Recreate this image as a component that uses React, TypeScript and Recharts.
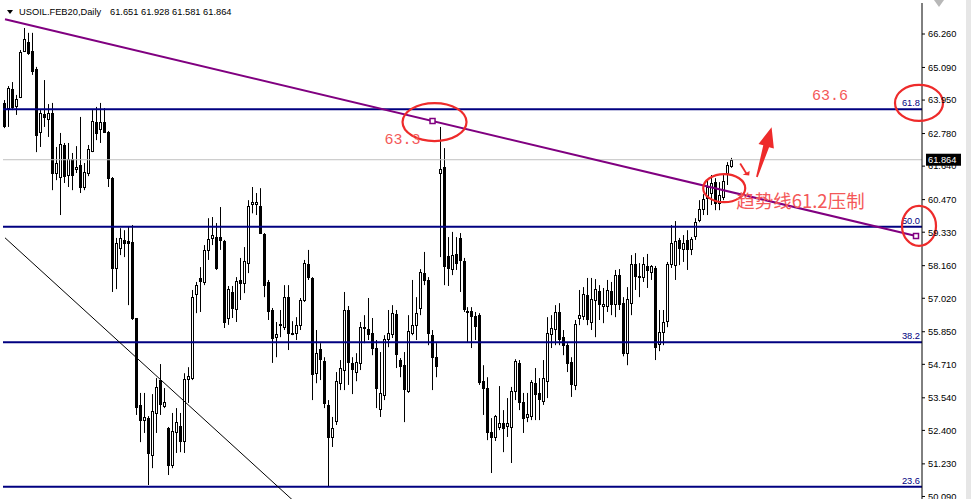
import { ComposedChart, Bar, XAxis, YAxis, ReferenceLine, ReferenceDot } from "recharts";

// USOIL.FEB20 daily candles (oldest first)
const opens = [
  63.85, 63.67, 64.33, 63.74, 64.06, 65.67, 65.98, 65.67, 65.04, 62.83, 63.46, 63.29, 63.5, 61.4, 61.26, 62.38, 61.33, 61.89, 61.54, 61.68,
  60.91, 61.4, 62.17, 63.18, 62.94, 63.18, 62.83, 61.22, 58.08, 58.78, 59.06, 59.02, 58.99, 56.33, 53.29, 52.76, 52.83, 51.54, 53.01, 54.16,
  53.25, 52.48, 51.19, 52.34, 52.55, 52.03, 54.19, 54.23, 57.17, 57.73, 57.59, 58.71, 59.13, 59.16, 59.16, 59.02, 56.33, 57.24, 56.64, 57.66,
  57.55, 58.25, 60.31, 60.31, 60.24, 59.27, 57.59, 56.61, 55.66, 56.08, 56.01, 57.06, 55.8, 55.8, 56.08, 56.96, 58.22, 57.73, 54.4, 55.24,
  54.82, 53.29, 52.17, 52.73, 54.05, 54.51, 56.61, 54.75, 54.44, 54.75, 55.98, 55.94, 55.8, 55.28, 53.15, 53.64, 55.59, 55.77, 56.47, 54.86,
  54.68, 53.78, 55.8, 56.08, 56.68, 57.9, 57.66, 55.73, 54.96, 61.4, 61.61, 58.5, 58.04, 58.57, 59.13, 58.32, 56.57, 56.57, 56.4, 56.43,
  54.12, 53.88, 52.34, 52.17, 52.52, 52.66, 52.55, 52.52, 53.78, 54.75, 53.39, 52.87, 52.9, 54.05, 53.71, 53.43, 54.12, 55.77, 55.94, 56.54,
  55.66, 55.38, 54.79, 53.99, 56.33, 56.4, 57.13, 56.19, 56.96, 57.27, 56.75, 56.75, 57.27, 56.82, 57.83, 56.85, 55.1, 56.85, 58.22, 57.8,
  57.76, 58.15, 57.94, 58.08, 55.42, 55.84, 56.22, 58.22, 58.18, 59.06, 58.74, 59.06, 58.74, 59.2, 59.75, 60.14, 60.52, 60.7, 61.08, 60.35,
  60.56, 61.4, 61.651,
];
const highs = [
  63.95, 64.44, 64.58, 64.13, 65.7, 66.47, 66.3, 66.3, 65.11, 63.6, 64.65, 63.81, 63.85, 62.31, 62.8, 62.45, 62.45, 62.1, 62.34, 63.36,
  61.75, 62.38, 63.6, 63.71, 63.85, 63.67, 62.87, 61.26, 59.13, 59.47, 59.4, 59.51, 59.58, 56.33, 53.71, 53.71, 52.9, 53.67, 54.23, 54.72,
  53.88, 52.52, 53.01, 53.18, 53.01, 54.4, 54.61, 57.31, 57.59, 58.11, 58.88, 59.82, 59.86, 59.65, 60.21, 59.06, 57.45, 57.45, 57.76, 58.43,
  58.81, 60.45, 60.91, 60.7, 60.87, 59.3, 57.66, 56.68, 56.19, 56.61, 57.48, 57.48, 56.22, 56.36, 57.03, 58.36, 58.71, 57.76, 55.91, 55.45,
  54.96, 53.46, 52.87, 54.44, 54.86, 57.24, 56.75, 54.96, 55.1, 56.19, 56.43, 57.03, 56.33, 55.56, 55.14, 55.73, 56.61, 56.78, 56.61, 54.93,
  55.14, 56.43, 57.66, 57.06, 58.04, 58.64, 57.76, 55.91, 55.45, 63.01, 62.27, 59.16, 59.34, 59.16, 59.3, 58.43, 56.71, 56.71, 56.54, 56.5,
  54.68, 54.26, 52.83, 52.94, 53.95, 53.11, 53.53, 53.92, 54.89, 54.86, 53.71, 53.71, 54.16, 54.58, 54.23, 54.86, 56.36, 56.43, 56.78, 56.85,
  55.91, 55.45, 54.96, 56.26, 57.31, 57.41, 57.73, 57.73, 57.69, 57.48, 57.38, 57.66, 57.59, 58.01, 58.04, 57.06, 57.41, 58.53, 58.6, 58.25,
  58.46, 58.57, 58.18, 58.15, 56.61, 56.61, 58.29, 59.58, 59.72, 59.13, 59.23, 59.4, 59.16, 59.82, 60.45, 60.66, 61.15, 61.33, 61.22, 61.08,
  61.33, 61.78, 61.928,
];
const lows = [
  62.97, 63.01, 63.6, 63.43, 64.02, 65.63, 65.53, 64.83, 62.13, 62.31, 63.01, 62.66, 60.8, 61.15, 59.93, 61.05, 60.91, 60.8, 61.4, 60.7,
  60.8, 61.29, 62.13, 62.55, 62.45, 62.8, 60.91, 57.24, 57.34, 58.53, 58.46, 56.78, 56.26, 52.94, 51.99, 52.31, 50.49, 51.08, 52.31, 52.94,
  53.18, 50.84, 51.08, 51.61, 51.64, 51.61, 53.36, 54.16, 56.5, 56.54, 57.48, 58.36, 58.88, 58.01, 58.71, 55.98, 56.09, 56.33, 56.19, 56.96,
  57.2, 57.9, 59.99, 59.93, 59.27, 57.06, 56.26, 54.76, 54.96, 55.66, 55.91, 55.21, 55.73, 55.56, 55.91, 56.89, 57.66, 53.46, 54.05, 54.16,
  53.18, 50.42, 51.82, 52.59, 53.81, 53.81, 53.99, 53.67, 54.12, 54.51, 55.45, 55.56, 55.03, 53.18, 52.87, 53.46, 55.31, 55.63, 54.58, 54.26,
  52.69, 53.71, 55.73, 55.56, 56.43, 57.48, 55.38, 53.81, 54.26, 58.46, 57.48, 57.45, 57.83, 58.01, 57.24, 56.54, 55.49, 55.28, 55.56, 53.99,
  52.94, 52.06, 50.91, 52.03, 52.41, 51.64, 52.17, 51.26, 53.46, 53.11, 52.31, 52.69, 52.76, 52.76, 52.76, 53.29, 53.53, 55.28, 55.38, 55.38,
  55.03, 54.44, 53.57, 53.81, 56.08, 56.26, 56.08, 55.91, 55.66, 56.26, 56.15, 56.54, 56.43, 56.36, 56.61, 54.99, 54.68, 56.43, 57.31, 57.06,
  57.59, 57.38, 57.66, 54.86, 55.17, 55.38, 56.01, 58.08, 57.66, 58.18, 58.29, 58.01, 58.53, 59.06, 59.68, 59.93, 59.93, 60.28, 60.1, 60.1,
  60.45, 60.98, 61.581,
];
const closes = [
  63.04, 64.37, 63.71, 63.99, 65.63, 66.09, 65.6, 64.97, 62.73, 63.5, 63.36, 63.5, 61.4, 61.75, 62.41, 61.29, 61.89, 61.33, 61.61, 60.91,
  61.43, 62.24, 63.22, 62.8, 63.18, 62.83, 61.22, 58.08, 58.95, 59.13, 58.95, 58.95, 56.33, 53.22, 52.76, 52.87, 51.61, 53.08, 53.92, 53.32,
  53.39, 51.19, 52.38, 52.69, 52.03, 54.19, 54.3, 57.06, 57.48, 57.62, 58.71, 59.09, 59.23, 58.08, 59.06, 56.19, 57.34, 56.68, 57.62, 57.55,
  58.32, 60.24, 60.38, 60.38, 59.3, 57.48, 56.57, 55.63, 55.77, 56.12, 57.06, 55.8, 55.82, 56.08, 56.96, 58.25, 57.76, 54.37, 55.1, 54.89,
  53.36, 52.17, 52.48, 54.12, 54.58, 56.61, 54.79, 54.54, 54.79, 56.01, 56.01, 55.77, 55.28, 53.88, 53.71, 55.59, 55.8, 56.5, 55.07, 54.65,
  53.85, 55.87, 56.08, 56.5, 57.94, 57.66, 55.8, 54.96, 54.65, 61.54, 58.15, 58.08, 58.53, 58.25, 58.36, 56.64, 56.54, 56.4, 56.05, 54.09,
  53.88, 52.34, 52.17, 52.9, 52.66, 52.48, 52.66, 53.78, 54.82, 53.39, 52.83, 52.97, 54.09, 53.67, 53.5, 54.23, 55.8, 55.98, 56.54, 55.59,
  55.38, 54.75, 54.02, 56.12, 56.43, 57.17, 56.29, 56.99, 57.34, 56.82, 56.82, 57.31, 56.82, 57.83, 56.82, 55.1, 56.99, 58.22, 57.8, 57.76,
  58.22, 58.01, 58.15, 55.31, 55.84, 56.19, 58.22, 58.95, 59.02, 58.78, 58.95, 58.74, 59.09, 59.68, 60.14, 60.49, 60.91, 61.05, 60.35, 60.63,
  61.12, 61.68, 61.864,
];
const emptySlots = 47; // right shift of the chart

const priceTicks = [66.26, 65.09, 63.95, 62.78, 61.64, 60.47, 59.33, 58.16, 57.02, 55.85, 54.71, 53.54, 52.4, 51.23, 50.09];
const fibLevels = [
  { ratio: "61.8", price: 63.627 },
  { ratio: "50.0", price: 59.523 },
  { ratio: "38.2", price: 55.48 },
  { ratio: "23.6", price: 50.43 },
];
const lastPrice = 61.864;
const trendLine = [
  { i: 0, price: 66.774 },
  { i: 107, price: 63.218 },
  { i: 228, price: 59.197 },
];
const supportLine = [
  { i: 0, price: 59.134 },
  { i: 75, price: 49.58 },
];
const circles = [
  { i: 107, price: 63.18, rx: 32, ry: 19, dx: 2 },
  { i: 228, price: 63.85, rx: 24, ry: 18, dx: 3 },
  { i: 180, price: 60.87, rx: 21, ry: 14, dx: 0 },
  { i: 228, price: 59.55, rx: 17, ry: 20, dx: 3 },
];
const notes = [
  { i: 95, price: 62.55, text: "63.3", mono: true },
  { i: 202, price: 64.09, text: "63.6", mono: true },
  { i: 183, price: 60.455, text: "趋势线61.2压制", mono: false },
];
const arrowAnchor = { i: 188, price: 61.224 };

const RED = "#ee2b2b";
const TEXT_RED = "#f45858";
const NAVY = "#000080";

type Row = { i: number; o?: number; h?: number; l?: number; c?: number; range: [number, number] | null };

const rows: Row[] = Array.from({ length: opens.length + emptySlots }, (_, i) =>
  i < opens.length
    ? { i, o: opens[i], h: highs[i], l: lows[i], c: closes[i], range: [lows[i], highs[i]] }
    : { i, range: null }
);

function Candle(props: any) {
  const { x, y, width, height, payload } = props;
  if (!payload || payload.o == null || x == null) return null;
  const top = Math.min(y, y + height);
  const h = Math.abs(height);
  const span = payload.h - payload.l;
  const py = (v: number) => (span > 0 ? top + ((payload.h - v) / span) * h : top);
  const cx = Math.floor(x + width / 2);
  const up = payload.c >= payload.o;
  const bt = Math.round(py(Math.max(payload.o, payload.c)));
  const bb = Math.round(py(Math.min(payload.o, payload.c)));
  return (
    <g>
      <line x1={cx + 0.5} x2={cx + 0.5} y1={top} y2={top + h} stroke="#000" strokeWidth={1} />
      {up ? (
        <rect x={cx - 0.5} y={bt + 0.5} width={2} height={Math.max(bb - bt, 1)} fill="#fff" stroke="#000" strokeWidth={1} />
      ) : (
        <rect x={cx - 1} y={bt} width={3} height={Math.max(bb - bt + 1, 1)} fill="#000" />
      )}
    </g>
  );
}

function fibLabel(text: string) {
  return (p: any) => {
    const vb = p.viewBox;
    return (
      <text x={vb.x + vb.width - 2} y={vb.y - 3} textAnchor="end" fill={NAVY} fontSize={9.3} fontFamily='"Liberation Sans", Arial'>
        {text}
      </text>
    );
  };
}

function priceBox(p: any) {
  const vb = p.viewBox;
  const x = vb.x + vb.width + 4;
  return (
    <g>
      <rect x={x} y={vb.y - 6} width={35} height={12} fill="#000" />
      <text x={x + 2} y={vb.y + 3.5} fill="#fff" fontSize={9.3} fontFamily='"Liberation Sans", Arial'>
        {lastPrice.toFixed(3)}
      </text>
    </g>
  );
}

function Arrows(p: any) {
  const { cx, cy } = p;
  const big = [
    [15.4, -50.7],
    [17.7, -29.5],
    [12.9, -30.9],
    [1.5, -0.8],
    [-0.1, -1.2],
    [7.1, -32.7],
    [2.3, -34.1],
  ];
  const small = [
    [-6.5, -7],
    [-13.5, -3.3],
    [-7, -2.5],
  ];
  const pts = (arr: number[][]) => arr.map(([dx, dy]) => `${cx + dx},${cy + dy}`).join(" ");
  return (
    <g>
      <polygon points={pts(big)} fill={RED} />
      <line x1={cx - 16} y1={cy - 14.5} x2={cx - 9.5} y2={cy - 4} stroke={RED} strokeWidth={1.8} />
      <polygon points={pts(small)} fill={RED} />
    </g>
  );
}

export default function App() {
  return (
    <div style={{ position: "absolute", left: 0, top: 0, width: 971, height: 499, overflow: "hidden", background: "#fff" }}>
      <ComposedChart width={971} height={516} data={rows} margin={{ top: 3, right: 0, bottom: 6, left: 3 }} barCategoryGap={0}>
        <XAxis
          dataKey="i"
          type="category"
          orientation="top"
          height={0}
          tick={false}
          tickLine={false}
          axisLine={{ stroke: "#000" }}
        />
        <YAxis yAxisId="frame" orientation="left" width={0} tick={false} tickLine={false} axisLine={{ stroke: "#000" }} domain={[0, 1]} />
        <YAxis
          orientation="right"
          width={49}
          domain={[49.617, 67.344]}
          allowDataOverflow
          ticks={priceTicks}
          interval={0}
          tickSize={3}
          tickMargin={3}
          axisLine={{ stroke: "#000" }}
          tickLine={{ stroke: "#000" }}
          tick={{ fill: "#000", fontSize: 9.3, fontFamily: '"Liberation Sans", Arial' }}
          tickFormatter={(v: number) => v.toFixed(3)}
        />
        <ReferenceLine y={lastPrice} stroke="#c0c0c0" strokeWidth={1} label={priceBox} />
        {fibLevels.map((f) => (
          <ReferenceLine key={f.ratio} y={f.price} stroke={NAVY} strokeWidth={2} label={fibLabel(f.ratio)} />
        ))}
        <ReferenceLine
          segment={supportLine.map((p) => ({ x: p.i, y: p.price }))}
          stroke="#000"
          strokeWidth={1}
          ifOverflow="hidden"
        />
        <Bar dataKey="range" barSize={3} shape={Candle} isAnimationActive={false} />
        <ReferenceLine
          segment={[trendLine[0], trendLine[2]].map((p) => ({ x: p.i, y: p.price }))}
          stroke="#800080"
          strokeWidth={2}
        />
        {trendLine.slice(1).map((p) => (
          <ReferenceDot
            key={`tp-${p.i}`}
            x={p.i}
            y={p.price}
            shape={(s: any) => (
              <rect x={s.cx - 2.5} y={s.cy - 2.5} width={5} height={5} fill="#fff" stroke="#800080" strokeWidth={1.5} />
            )}
          />
        ))}
        {circles.map((c, k) => (
          <ReferenceDot
            key={`c-${k}`}
            x={c.i}
            y={c.price}
            shape={(s: any) => (
              <ellipse cx={s.cx + c.dx} cy={s.cy} rx={c.rx} ry={c.ry} fill="none" stroke={RED} strokeWidth={2.2} />
            )}
          />
        ))}
        {notes.map((n, k) => (
          <ReferenceDot
            key={`n-${k}`}
            x={n.i}
            y={n.price}
            shape={(s: any) => (
              <text
                x={s.cx}
                y={s.cy}
                dominantBaseline="central"
                fill={TEXT_RED}
                fontSize={n.mono ? 15 : 18.5}
                fontFamily={n.mono ? '"Liberation Mono", monospace' : '"Noto Sans CJK SC", sans-serif'}
              >
                {n.text}
              </text>
            )}
          />
        ))}
        <ReferenceDot x={arrowAnchor.i} y={arrowAnchor.price} shape={Arrows} />
      </ComposedChart>
      {/* chart-shift marker and window edge */}
      <div
        style={{
          position: "absolute",
          left: 934,
          top: 0,
          width: 0,
          height: 0,
          borderLeft: "5px solid transparent",
          borderRight: "5px solid transparent",
          borderTop: "7px solid #b8b8b8",
        }}
      />
      <div style={{ position: "absolute", left: 966, top: 0, width: 5, height: 499, background: "#e6e6e6" }} />
      <div
        style={{
          position: "absolute",
          left: 7,
          top: 10,
          width: 0,
          height: 0,
          borderLeft: "3.5px solid transparent",
          borderRight: "3.5px solid transparent",
          borderTop: "4px solid #000",
        }}
      />
      <div
        style={{
          position: "absolute",
          left: 19,
          top: 6,
          fontSize: 9.3,
          lineHeight: "12px",
          fontFamily: '"Liberation Sans", Arial',
          color: "#000",
          whiteSpace: "pre",
        }}
      >
        USOIL.FEB20,Daily
      </div>
      <div
        style={{
          position: "absolute",
          left: 110,
          top: 6,
          fontSize: 9.3,
          lineHeight: "12px",
          fontFamily: '"Liberation Sans", Arial',
          color: "#000",
          whiteSpace: "pre",
        }}
      >
        {`${opens[opens.length - 1].toFixed(3)} ${highs[highs.length - 1].toFixed(3)} ${lows[lows.length - 1].toFixed(3)} ${closes[closes.length - 1].toFixed(3)}`}
      </div>
    </div>
  );
}
